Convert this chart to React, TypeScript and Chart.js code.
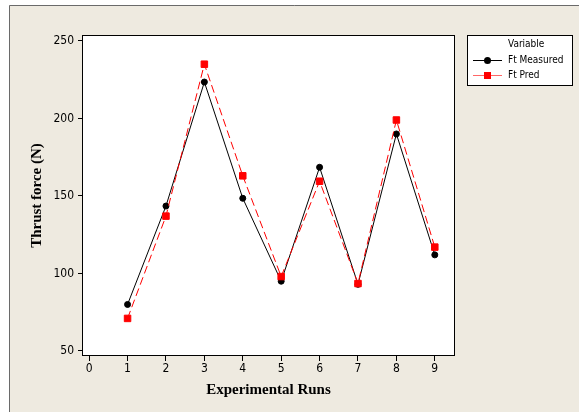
import React, { useEffect, useRef } from "react";
import { Chart, registerables } from "chart.js";

Chart.register(...registerables);

const runs = [1, 2, 3, 4, 5, 6, 7, 8, 9];
const ftMeasured = [80, 143.5, 223.5, 148.5, 95, 168.5, 93, 190, 112];
const ftPred = [71, 137, 235, 163, 98, 159.5, 93.5, 199, 117];
const xTicks = [0, 1, 2, 3, 4, 5, 6, 7, 8, 9];
const yTicks = [50, 100, 150, 200, 250];
const legendTitle = "Variable";
const seriesNames = ["Ft Measured", "Ft Pred"];
const xTitle = "Experimental Runs";
const yTitle = "Thrust force (N)";

const BEIGE = "#EEEAE0";
const TICK_FONT = { family: "'DejaVu Sans Condensed', 'DejaVu Sans', sans-serif", size: 12 };
const TITLE_FONT = { family: "'Liberation Serif', 'Times New Roman', serif", size: 15, weight: "bold" as const };

const framePlugin = {
  id: "frame",
  beforeDraw(chart: any) {
    const { ctx, width, height, chartArea } = chart;
    ctx.save();
    ctx.fillStyle = "#ffffff";
    ctx.fillRect(0, 0, width, height);
    ctx.fillStyle = BEIGE;
    ctx.fillRect(9, 5, width - 9, height - 5);
    ctx.strokeStyle = "#6a6a6a";
    ctx.lineWidth = 1;
    ctx.beginPath();
    ctx.moveTo(9.5, height);
    ctx.lineTo(9.5, 5.5);
    ctx.lineTo(width, 5.5);
    ctx.stroke();
    ctx.fillStyle = "#ffffff";
    ctx.fillRect(chartArea.left, chartArea.top, chartArea.right - chartArea.left, chartArea.bottom - chartArea.top);
    ctx.restore();
  },
  afterDraw(chart: any) {
    const { ctx, chartArea } = chart;
    ctx.save();
    ctx.strokeStyle = "#000";
    ctx.lineWidth = 1;
    ctx.strokeRect(
      Math.round(chartArea.left) - 0.5,
      Math.round(chartArea.top) - 0.5,
      Math.round(chartArea.right - chartArea.left) + 1,
      Math.round(chartArea.bottom - chartArea.top) + 1
    );

    // legend
    const bx = 467.5, by = 35.5, bw = 105, bh = 50;
    ctx.fillStyle = "#fff";
    ctx.fillRect(bx, by, bw, bh);
    ctx.strokeStyle = "#000";
    ctx.strokeRect(bx, by, bw, bh);
    ctx.fillStyle = "#000";
    ctx.font = "10px 'DejaVu Sans Condensed', 'DejaVu Sans', sans-serif";
    ctx.textBaseline = "middle";
    ctx.textAlign = "left";
    ctx.fillText(legendTitle, 508, 44.5);
    ctx.fillText(seriesNames[0], 508, 60);
    ctx.fillText(seriesNames[1], 508, 75);

    // measured sample
    ctx.strokeStyle = "#000";
    ctx.beginPath();
    ctx.moveTo(473, 60.5);
    ctx.lineTo(502, 60.5);
    ctx.stroke();
    ctx.fillStyle = "#000";
    ctx.beginPath();
    ctx.arc(487.5, 60.5, 3.5, 0, Math.PI * 2);
    ctx.fill();

    // pred sample
    ctx.strokeStyle = "rgba(255,0,0,0.6)";
    ctx.beginPath();
    ctx.moveTo(473, 75.5);
    ctx.lineTo(502, 75.5);
    ctx.stroke();
    ctx.fillStyle = "#ff0000";
    ctx.fillRect(484, 72, 7, 7);
    ctx.restore();
  },
};

export default function App() {
  const ref = useRef<HTMLCanvasElement>(null);

  useEffect(() => {
    if (!ref.current) return;
    const chart = new Chart(ref.current, {
      type: "line",
      data: {
        datasets: [
          {
            label: seriesNames[1],
            data: runs.map((r, i) => ({ x: r, y: ftPred[i] })),
            borderColor: "#ff0000",
            backgroundColor: "#ff0000",
            borderWidth: 1,
            borderDash: [8, 4],
            pointStyle: "rect",
            pointRadius: 4.6,
            pointBorderWidth: 1,
            pointBorderColor: "#ff0000",
            pointBackgroundColor: "#ff0000",
            tension: 0,
          },
          {
            label: seriesNames[0],
            data: runs.map((r, i) => ({ x: r, y: ftMeasured[i] })),
            borderColor: "#000000",
            backgroundColor: "#000000",
            borderWidth: 1,
            pointStyle: "circle",
            pointRadius: 3,
            pointBorderWidth: 1,
            pointBorderColor: "#000000",
            pointBackgroundColor: "#000000",
            tension: 0,
          },
        ],
      },
      options: {
        animation: false,
        responsive: false,
        devicePixelRatio: 1,
        layout: { padding: { left: 20, right: 125, top: 36, bottom: 10 } },
        plugins: { legend: { display: false }, tooltip: { enabled: false } },
        scales: {
          x: {
            type: "linear",
            min: -0.16,
            max: 9.5,
            afterBuildTicks: (axis: any) => {
              axis.ticks = xTicks.map((v) => ({ value: v }));
            },
            afterFit: (s: any) => {
              s.height = 47;
            },
            grid: { drawOnChartArea: false, drawTicks: true, tickLength: 6, color: "#000" },
            border: { display: false },
            ticks: { color: "#000", font: TICK_FONT, padding: 1, maxRotation: 0 },
            title: { display: true, text: xTitle, color: "#000", font: TITLE_FONT, padding: { top: 0, bottom: 2.6 } },
          },
          y: {
            type: "linear",
            min: 47.4,
            max: 253.2,
            afterBuildTicks: (axis: any) => {
              axis.ticks = yTicks.map((v) => ({ value: v }));
            },
            afterFit: (s: any) => {
              s.width = 63;
            },
            grid: { drawOnChartArea: false, drawTicks: true, tickLength: 5, color: "#000" },
            border: { display: false },
            ticks: { color: "#000", font: TICK_FONT, padding: 4 },
            title: { display: true, text: yTitle, color: "#000", font: TITLE_FONT, padding: { top: 8.6, bottom: 0 } },
          },
        },
      },
      plugins: [framePlugin],
    });
    return () => chart.destroy();
  }, []);

  return (
    <div style={{ position: "fixed", left: 0, top: 0, width: 579, height: 412 }}>
      <canvas ref={ref} width={579} height={412} style={{ width: 579, height: 412, display: "block" }} />
    </div>
  );
}
